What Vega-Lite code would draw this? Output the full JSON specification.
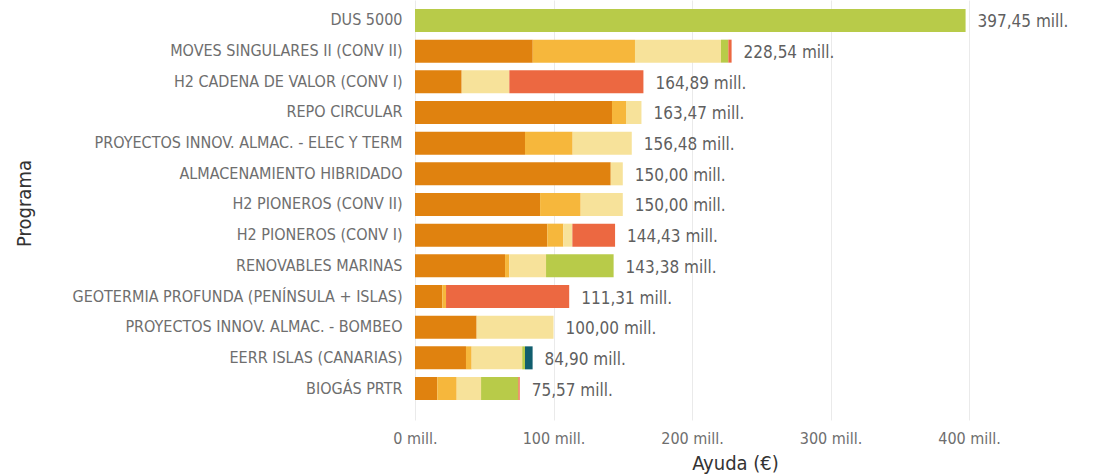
{
  "$schema": "https://vega.github.io/schema/vega-lite/v6.json",
  "width": 640,
  "height": 420,
  "autosize": {"type": "none"},
  "padding": {"left": 415, "top": 0, "right": 44, "bottom": 56},
  "background": "white",
  "config": {
    "view": {"stroke": null},
    "font": "DejaVu Sans Condensed",
    "locale": {"number": {"decimal": ",", "thousands": ".", "grouping": [3], "currency": ["", " €"]}}
  },
  "datasets": {
    "segmentos": [
      {"programa": "DUS 5000", "serie": "Serie 4", "orden": 4, "ayuda": 397.45},
      {"programa": "MOVES SINGULARES II (CONV II)", "serie": "Serie 1", "orden": 1, "ayuda": 85.0},
      {"programa": "MOVES SINGULARES II (CONV II)", "serie": "Serie 2", "orden": 2, "ayuda": 73.8},
      {"programa": "MOVES SINGULARES II (CONV II)", "serie": "Serie 3", "orden": 3, "ayuda": 62.1},
      {"programa": "MOVES SINGULARES II (CONV II)", "serie": "Serie 4", "orden": 4, "ayuda": 5.3},
      {"programa": "MOVES SINGULARES II (CONV II)", "serie": "Serie 6", "orden": 6, "ayuda": 2.34},
      {"programa": "H2 CADENA DE VALOR (CONV I)", "serie": "Serie 1", "orden": 1, "ayuda": 33.7},
      {"programa": "H2 CADENA DE VALOR (CONV I)", "serie": "Serie 3", "orden": 3, "ayuda": 34.4},
      {"programa": "H2 CADENA DE VALOR (CONV I)", "serie": "Serie 6", "orden": 6, "ayuda": 96.79},
      {"programa": "REPO CIRCULAR", "serie": "Serie 1", "orden": 1, "ayuda": 142.2},
      {"programa": "REPO CIRCULAR", "serie": "Serie 2", "orden": 2, "ayuda": 10.1},
      {"programa": "REPO CIRCULAR", "serie": "Serie 3", "orden": 3, "ayuda": 11.17},
      {"programa": "PROYECTOS INNOV. ALMAC. - ELEC Y TERM", "serie": "Serie 1", "orden": 1, "ayuda": 79.4},
      {"programa": "PROYECTOS INNOV. ALMAC. - ELEC Y TERM", "serie": "Serie 2", "orden": 2, "ayuda": 34.4},
      {"programa": "PROYECTOS INNOV. ALMAC. - ELEC Y TERM", "serie": "Serie 3", "orden": 3, "ayuda": 42.68},
      {"programa": "ALMACENAMIENTO HIBRIDADO", "serie": "Serie 1", "orden": 1, "ayuda": 141.3},
      {"programa": "ALMACENAMIENTO HIBRIDADO", "serie": "Serie 3", "orden": 3, "ayuda": 8.7},
      {"programa": "H2 PIONEROS (CONV II)", "serie": "Serie 1", "orden": 1, "ayuda": 90.3},
      {"programa": "H2 PIONEROS (CONV II)", "serie": "Serie 2", "orden": 2, "ayuda": 29.3},
      {"programa": "H2 PIONEROS (CONV II)", "serie": "Serie 3", "orden": 3, "ayuda": 30.4},
      {"programa": "H2 PIONEROS (CONV I)", "serie": "Serie 1", "orden": 1, "ayuda": 95.5},
      {"programa": "H2 PIONEROS (CONV I)", "serie": "Serie 2", "orden": 2, "ayuda": 11.6},
      {"programa": "H2 PIONEROS (CONV I)", "serie": "Serie 3", "orden": 3, "ayuda": 6.5},
      {"programa": "H2 PIONEROS (CONV I)", "serie": "Serie 6", "orden": 6, "ayuda": 30.83},
      {"programa": "RENOVABLES MARINAS", "serie": "Serie 1", "orden": 1, "ayuda": 65.0},
      {"programa": "RENOVABLES MARINAS", "serie": "Serie 2", "orden": 2, "ayuda": 3.1},
      {"programa": "RENOVABLES MARINAS", "serie": "Serie 3", "orden": 3, "ayuda": 26.5},
      {"programa": "RENOVABLES MARINAS", "serie": "Serie 4", "orden": 4, "ayuda": 48.78},
      {"programa": "GEOTERMIA PROFUNDA (PENÍNSULA + ISLAS)", "serie": "Serie 1", "orden": 1, "ayuda": 19.7},
      {"programa": "GEOTERMIA PROFUNDA (PENÍNSULA + ISLAS)", "serie": "Serie 2", "orden": 2, "ayuda": 2.7},
      {"programa": "GEOTERMIA PROFUNDA (PENÍNSULA + ISLAS)", "serie": "Serie 6", "orden": 6, "ayuda": 88.91},
      {"programa": "PROYECTOS INNOV. ALMAC. - BOMBEO", "serie": "Serie 1", "orden": 1, "ayuda": 44.5},
      {"programa": "PROYECTOS INNOV. ALMAC. - BOMBEO", "serie": "Serie 3", "orden": 3, "ayuda": 55.5},
      {"programa": "EERR ISLAS (CANARIAS)", "serie": "Serie 1", "orden": 1, "ayuda": 36.8},
      {"programa": "EERR ISLAS (CANARIAS)", "serie": "Serie 2", "orden": 2, "ayuda": 4.1},
      {"programa": "EERR ISLAS (CANARIAS)", "serie": "Serie 3", "orden": 3, "ayuda": 36.5},
      {"programa": "EERR ISLAS (CANARIAS)", "serie": "Serie 4", "orden": 4, "ayuda": 2.0},
      {"programa": "EERR ISLAS (CANARIAS)", "serie": "Serie 5", "orden": 5, "ayuda": 5.5},
      {"programa": "BIOGÁS PRTR", "serie": "Serie 1", "orden": 1, "ayuda": 16.1},
      {"programa": "BIOGÁS PRTR", "serie": "Serie 2", "orden": 2, "ayuda": 14.0},
      {"programa": "BIOGÁS PRTR", "serie": "Serie 3", "orden": 3, "ayuda": 17.6},
      {"programa": "BIOGÁS PRTR", "serie": "Serie 4", "orden": 4, "ayuda": 26.9},
      {"programa": "BIOGÁS PRTR", "serie": "Serie 6", "orden": 6, "ayuda": 0.97}
    ],
    "totales": [
      {"programa": "DUS 5000", "total": 397.45, "etiqueta": "397,45 mill."},
      {"programa": "MOVES SINGULARES II (CONV II)", "total": 228.54, "etiqueta": "228,54 mill."},
      {"programa": "H2 CADENA DE VALOR (CONV I)", "total": 164.89, "etiqueta": "164,89 mill."},
      {"programa": "REPO CIRCULAR", "total": 163.47, "etiqueta": "163,47 mill."},
      {"programa": "PROYECTOS INNOV. ALMAC. - ELEC Y TERM", "total": 156.48, "etiqueta": "156,48 mill."},
      {"programa": "ALMACENAMIENTO HIBRIDADO", "total": 150.0, "etiqueta": "150,00 mill."},
      {"programa": "H2 PIONEROS (CONV II)", "total": 150.0, "etiqueta": "150,00 mill."},
      {"programa": "H2 PIONEROS (CONV I)", "total": 144.43, "etiqueta": "144,43 mill."},
      {"programa": "RENOVABLES MARINAS", "total": 143.38, "etiqueta": "143,38 mill."},
      {"programa": "GEOTERMIA PROFUNDA (PENÍNSULA + ISLAS)", "total": 111.31, "etiqueta": "111,31 mill."},
      {"programa": "PROYECTOS INNOV. ALMAC. - BOMBEO", "total": 100.0, "etiqueta": "100,00 mill."},
      {"programa": "EERR ISLAS (CANARIAS)", "total": 84.9, "etiqueta": "84,90 mill."},
      {"programa": "BIOGÁS PRTR", "total": 75.57, "etiqueta": "75,57 mill."}
    ]
  },
  "encoding": {
    "y": {
      "field": "programa",
      "type": "nominal",
      "sort": ["DUS 5000", "MOVES SINGULARES II (CONV II)", "H2 CADENA DE VALOR (CONV I)", "REPO CIRCULAR", "PROYECTOS INNOV. ALMAC. - ELEC Y TERM", "ALMACENAMIENTO HIBRIDADO", "H2 PIONEROS (CONV II)", "H2 PIONEROS (CONV I)", "RENOVABLES MARINAS", "GEOTERMIA PROFUNDA (PENÍNSULA + ISLAS)", "PROYECTOS INNOV. ALMAC. - BOMBEO", "EERR ISLAS (CANARIAS)", "BIOGÁS PRTR"],
      "scale": {"paddingInner": 0.25, "paddingOuter": 0.472, "align": 0.31},
      "axis": {
        "title": "Programa",
        "titleFontSize": 20,
        "titleFontWeight": "normal",
        "titleColor": "#333333",
        "titleX": -381,
        "titleY": 203,
        "titleAngle": -90,
        "titleBaseline": "bottom",
        "labelFontSize": 16,
        "labelColor": "#6e6e6e",
        "labelPadding": 13,
        "labelLimit": 400,
        "domain": false,
        "ticks": false,
        "grid": false
      }
    }
  },
  "layer": [
    {
      "data": {"name": "segmentos"},
      "mark": {"type": "bar"},
      "encoding": {
        "x": {
          "field": "ayuda",
          "type": "quantitative",
          "aggregate": "sum",
          "stack": "zero",
          "scale": {"domain": [0, 462], "nice": false},
          "axis": {
            "title": "Ayuda (€)",
            "titleFontSize": 20,
            "titleFontWeight": "normal",
            "titleColor": "#333333",
            "titlePadding": 7,
            "values": [0, 100, 200, 300, 400],
            "labelExpr": "datum.value + ' mill.'",
            "labelFontSize": 16,
            "labelColor": "#6e6e6e",
            "labelPadding": 10,
            "labelFlush": false,
            "domain": false,
            "ticks": false,
            "grid": true,
            "gridColor": "#EAEAEA"
          }
        },
        "color": {
          "field": "serie",
          "type": "nominal",
          "scale": {
            "domain": ["Serie 1", "Serie 2", "Serie 3", "Serie 4", "Serie 5", "Serie 6"],
            "range": ["#E0820F", "#F6B73C", "#F7E29A", "#B8CB49", "#115E6E", "#EC6841"]
          },
          "legend": null
        },
        "order": {"field": "orden", "type": "quantitative"}
      }
    },
    {
      "data": {"name": "totales"},
      "mark": {"type": "text", "align": "left", "baseline": "middle", "dx": 12, "dy": 2, "fontSize": 17, "color": "#5f5f5f"},
      "encoding": {
        "x": {"field": "total", "type": "quantitative"},
        "text": {"field": "etiqueta"}
      }
    }
  ]
}
